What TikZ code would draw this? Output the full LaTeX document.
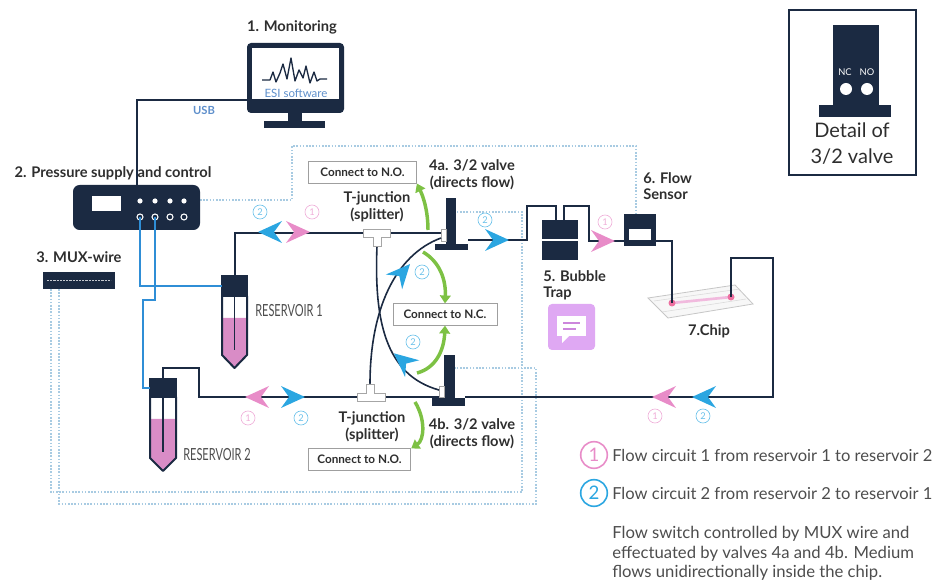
\documentclass[tikz,border=0pt]{standalone}
\usepackage{fontspec}
\setmainfont{Lato}
\newfontfamily\narrowfont[FakeStretch=0.66]{Lato}
\usetikzlibrary{arrows.meta}
\definecolor{navy}{HTML}{1B2A42}
\definecolor{ink}{HTML}{2E2E2E}
\definecolor{flowA}{HTML}{E88CC8}
\definecolor{flowB}{HTML}{2BA6E1}
\definecolor{liquid}{HTML}{D98CC6}
\definecolor{airline}{HTML}{2F8ED6}
\definecolor{ctrlline}{HTML}{A8CBE2}
\definecolor{leaf}{HTML}{7DC144}
\definecolor{lilac}{HTML}{DFA8F3}
\definecolor{usbtext}{HTML}{5E8FCB}
\begin{document}
\begin{tikzpicture}[x=0.75pt,y=-0.75pt,
  tube/.style={draw=navy,line width=1.5pt},
  airtube/.style={draw=airline,line width=1.5pt},
  ctrl/.style={draw=ctrlline,line width=0.9pt,dash pattern=on 1.2pt off 1.2pt},
  title/.style={font=\bfseries\fontsize{11}{12.5}\selectfont,text=ink,align=center,inner sep=0pt},
  notebox/.style={draw=gray!75,line width=0.6pt,fill=white,font=\bfseries\fontsize{8.8}{9}\selectfont,text=ink,minimum height=16pt,inner sep=0pt},
  numA/.style={circle,draw=flowA!70,text=flowA!70,line width=0.5pt,minimum size=10.5pt,inner sep=0pt,font=\fontsize{7}{7}\selectfont},
  numB/.style={circle,draw=flowB!70,text=flowB!70,line width=0.5pt,minimum size=10.5pt,inner sep=0pt,font=\fontsize{7}{7}\selectfont},
  keyA/.style={circle,draw=flowA,text=flowA,line width=1.2pt,minimum size=20pt,inner sep=0pt,font=\fontsize{14}{14}\selectfont},
  keyB/.style={circle,draw=flowB,text=flowB,line width=1.2pt,minimum size=20pt,inner sep=0pt,font=\fontsize{14}{14}\selectfont},
  keytext/.style={anchor=west,font=\fontsize{12.4}{14}\selectfont,text=ink!85,inner sep=0pt},
  switch/.style={draw=leaf,line width=2.6pt,-{Triangle[width=8pt,length=6pt]}},
  tjunction/.style={draw=gray!70,fill=white,line width=0.6pt},
  chev/.pic={\fill (12,0) -- (-12,-11) -- (-4,0) -- (-12,11) -- cycle;}
]
\useasboundingbox (0,0) rectangle (936,584);

% ---------- control lines (dotted) ----------
\coordinate (psOut) at (200,200);
\coordinate (fsTop) at (636,214);
\coordinate (muxA) at (51,289);
\coordinate (muxB) at (59,289);
\coordinate (v4aCtl) at (456,212);
\coordinate (v4bCtl) at (455,368);
\draw[ctrl] (psOut) -- (292,200) -- (292,146) -- (636,146) -- (fsTop);
\draw[ctrl] (muxA) -- (51,492) -- (522,492) -- (522,212) -- (v4aCtl);
\draw[ctrl] (muxB) -- (59,504) -- (536,504) -- (536,368) -- (v4bCtl);

% ---------- monitor ----------
\fill[navy,rounded corners=3pt] (247,43) rectangle (344,113);
\fill[white] (252,48) rectangle (339,99);
\fill[navy] (288,112) rectangle (302,122);
\fill[navy] (264,121) rectangle (325,128);
\draw[navy,line width=1pt,line join=round] (262,80) -- (270,80) -- (273,72) -- (276,82) -- (280,73) -- (283,64) -- (287,79) -- (291,58) -- (295,81) -- (299,70) -- (303,78) -- (306,66) -- (310,83) -- (314,72) -- (317,81) -- (320,79) -- (327,79);
\node[text=usbtext,font=\fontsize{8.6}{9}\selectfont,inner sep=0pt] (esi) at (296,93) {ESI software};
\node[title] (monlabel) at (292,27) {1. Monitoring};
\coordinate (monUsb) at (247,100);

% ---------- pressure supply ----------
\node[title,anchor=center] (pslabel) at (113,173) {2. Pressure supply and control};
\fill[navy,rounded corners=5pt] (73,185) rectangle (200,230);
\coordinate (psTop) at (137,185);
\fill[white] (92,196) rectangle (121,211);
\foreach \px in {140,155,170,184} {
  \fill[white] (\px,201) circle (2.6);
  \draw[white,line width=0.8pt] (\px,217) circle (3);
}
\coordinate (psP1) at (140,217);
\coordinate (psP2) at (155,217);
\draw[navy,line width=1.5pt] (monUsb) -- (137,100) -- (psTop);
\node[text=usbtext,font=\bfseries\fontsize{8.4}{9}\selectfont,inner sep=0pt] (usb) at (204,110) {USB};

% ---------- MUX wire ----------
\node[title] (muxlabel) at (79,257) {3. MUX-wire};
\fill[navy] (43,272) rectangle (115,289);
\draw[white!75!navy,line width=1.3pt,dash pattern=on 1.6pt off 0.8pt] (47,280.5) -- (111,280.5);

% ---------- reservoirs ----------
\coordinate (r1cap) at (222,286);
\coordinate (r2cap) at (150,388);
\coordinate (r1top) at (234.5,275);
\coordinate (r2top) at (163,378);
% reservoir 1
\fill[liquid] (222,318) -- (222,355) -- (234.5,368) -- (247,355) -- (247,318) -- cycle;
\draw[navy,line width=1.5pt,line join=round] (222,296) -- (222,355) -- (234.5,368) -- (247,355) -- (247,296);
\draw[navy,line width=1pt] (234.5,296) -- (234.5,350);
\fill[navy] (221.25,275) rectangle (247.75,297);
\node[font=\narrowfont\fontsize{12.5}{13}\selectfont,text=ink!85,anchor=west,inner sep=0pt] (r1label) at (255,311) {RESERVOIR 1};
% reservoir 2
\fill[liquid] (150,419) -- (150,458) -- (163,471) -- (176,458) -- (176,419) -- cycle;
\draw[navy,line width=1.5pt,line join=round] (150,397) -- (150,458) -- (163,471) -- (176,458) -- (176,397);
\draw[navy,line width=1pt] (163,397) -- (163,452);
\fill[navy] (149.25,378) rectangle (176.75,398);
\node[font=\narrowfont\fontsize{12.5}{13}\selectfont,text=ink!85,anchor=west,inner sep=0pt] (r2label) at (183,455) {RESERVOIR 2};

% pressure lines to reservoirs
\draw[airtube] (psP1) -- (140,286) -- (r1cap);
\draw[airtube] (psP2) -- (155,300) -- (143,300) -- (143,388) -- (r2cap);

% ---------- valves ----------
% 4a
\fill[navy] (446,198) rectangle (456,245);
\fill[navy] (435,244) rectangle (468,250);
\draw[gray!70,line width=0.6pt] (441,229) rectangle (446,241);
\coordinate (v4aIn) at (441,233);
\coordinate (v4aSide) at (441,238);
\coordinate (v4aOut) at (468,240);
% 4b
\fill[navy] (444,355) rectangle (455,400);
\fill[navy] (432,398) rectangle (465,406);
\draw[gray!70,line width=0.6pt] (439,386) rectangle (444,397);
\coordinate (v4bIn) at (439,397);
\coordinate (v4bSide) at (439,390);
\coordinate (v4bOut) at (465,397);

% ---------- T-junctions ----------
\coordinate (tAl) at (363,233);
\coordinate (tAr) at (390,233);
\coordinate (tAs) at (377,246);
\coordinate (tBl) at (357,397);
\coordinate (tBr) at (385,397);
\coordinate (tBs) at (370,384);

% top line: reservoir 1 -> T -> valve 4a
\draw[tube] (r1top) -- (234.5,233) -- (tAl);
\draw[tube] (tAr) -- (v4aIn);
% bottom line: reservoir 2 -> T -> valve 4b
\draw[tube] (r2top) -- (163,368) -- (199,368) -- (199,397) -- (tBl);
\draw[tube] (tBr) -- (v4bIn);
% crossing branches
\draw[navy,line width=1.2pt] (tAs) .. controls (374,320) and (385,375) .. (v4bSide);
\draw[navy,line width=1.2pt] (v4aSide) .. controls (395,255) and (370,310) .. (tBs);

\draw[tjunction] (363,229) -- (390,229) -- (390,237) -- (381,237) -- (381,246) -- (373,246) -- (373,237) -- (363,237) -- cycle;
\draw[tjunction] (357,401) -- (385,401) -- (385,393) -- (374,393) -- (374,384) -- (366,384) -- (366,393) -- (357,393) -- cycle;

% ---------- bubble trap, flow sensor, chip ----------
\fill[navy] (542,220) rectangle (578,260);
\draw[white,line width=1pt] (542,240) -- (578,240);
\coordinate (btIn) at (556,220);
\coordinate (btOut) at (564,220);
\fill[navy] (624,214) rectangle (656,246);
\fill[white] (629,229) rectangle (651,240);
\coordinate (fsIn) at (624,241);
\coordinate (fsOut) at (656,241);

% chip
\draw[gray!45,fill=gray!6,line width=0.6pt] (648,298) -- (735,285) -- (753,304) -- (668,318) -- cycle;
\draw[gray!30,line width=0.4pt] (654,301) -- (740,289);
\draw[gray!30,line width=0.4pt] (662,312) -- (746,299);
\draw[flowA!60,line width=2pt] (672,303) -- (731,297);
\coordinate (chipIn) at (672,303);
\coordinate (chipOut) at (731,297);
\fill[flowA!80!red] (chipIn) circle (3.5);
\fill[flowA!80!red] (chipOut) circle (3.5);
\node[title] (chiplabel) at (709,331) {7.Chip};

\draw[tube] (v4aOut) -- (527,240) -- (527,206) -- (556,206) -- (btIn);
\draw[tube] (btOut) -- (564,206) -- (589,206) -- (589,241) -- (fsIn);
\draw[tube] (fsOut) -- (672,241) -- (chipIn);
\draw[tube] (chipOut) -- (731,258) -- (773,258) -- (773,397) -- (v4bOut);

\node[title,align=left,anchor=north west] (btlabel) at (543,270) {5. Bubble\\Trap};
\node[title,align=left,anchor=north west] (fslabel) at (643,172) {6. Flow\\Sensor};

% comment icon
\fill[lilac,rounded corners=3pt] (548,304) rectangle (595,350);
\fill[white] (557,316) rectangle (586,336);
\fill[white] (562,335) -- (562,343) -- (570,335) -- cycle;
\draw[lilac!80!violet,line width=1pt] (563,323) -- (580,323);
\draw[lilac!80!violet,line width=1pt] (563,329) -- (576,329);

% ---------- labels around valves ----------
\node[title] (v4alabel) at (472,175) {4a. 3/2 valve\\(directs flow)};
\node[title] (tAlabel) at (377,207) {T-junction\\(splitter)};
\node[title] (tBlabel) at (372,427) {T-junction\\(splitter)};
\node[title] (v4blabel) at (472,434) {4b. 3/2 valve\\(directs flow)};

\node[notebox,minimum width=81pt] (noA) at (362.5,172.5) {Connect to N.O.};
\node[notebox,minimum width=78pt] (nc) at (445,314.5) {Connect to N.C.};
\node[notebox,minimum width=77pt] (noB) at (359.5,459.5) {Connect to N.O.};

% switching arrows
\draw[switch] (428,230) .. controls (428,205) and (420,190) .. (noA.south east);
\draw[switch] (423,252) .. controls (440,262) and (446,280) .. (nc.north);
\draw[switch] (417,373) .. controls (436,368) and (444,350) .. (nc.south);
\draw[switch] (415,402) .. controls (426,420) and (424,440) .. (noB.north east);

% ---------- flow direction marks ----------
\pic[color=flowB,rotate=180] at (270,232) {chev};
\pic[color=flowA] at (298,232) {chev};
\node[numB] at (260,212) {2};
\node[numA] at (312,212) {1};

\pic[color=flowB] at (497,240) {chev};
\node[numB] at (485,220) {2};
\pic[color=flowA] at (603,241) {chev};
\node[numA] at (605,222) {1};

\pic[color=flowA,rotate=180] at (257,397) {chev};
\pic[color=flowB] at (293,397) {chev};
\node[numA] at (248,418) {1};
\node[numB] at (301,418) {2};

\pic[color=flowA,rotate=180] at (664,397) {chev};
\pic[color=flowB,rotate=180] at (704,397) {chev};
\node[numA] at (655,416) {1};
\node[numB] at (703,416) {2};

\pic[color=flowB,rotate=48] at (402,273) {chev};
\node[numB] at (422,272) {2};
\pic[color=flowB,rotate=140] at (403,361) {chev};
\node[numB] at (413,342) {2};

% ---------- legend ----------
\node[keyA] (k1) at (594,455) {1};
\node[keytext] (k1t) at (612,455) {Flow circuit 1 from reservoir 1 to reservoir 2};
\node[keyB] (k2) at (594,493) {2};
\node[keytext] (k2t) at (612,493) {Flow circuit 2 from reservoir 2 to reservoir 1};
\node[anchor=north west,align=left,font=\fontsize{12.5}{14.6}\selectfont,text=ink!85,inner sep=0pt] (note) at (612,526) {Flow switch controlled by MUX wire and\\effectuated by valves 4a and 4b. Medium\\flows unidirectionally inside the chip.};

% ---------- valve detail ----------
\draw[navy,line width=2pt] (789,10) rectangle (916,175);
\fill[navy] (833,25) rectangle (879,106);
\fill[navy] (819,105) rectangle (891,117);
\node[text=white,font=\fontsize{7}{7}\selectfont,inner sep=0pt] (nclbl) at (845,72) {NC};
\node[text=white,font=\fontsize{7}{7}\selectfont,inner sep=0pt] (nolbl) at (867,72) {NO};
\fill[white] (846,89) circle (6);
\fill[white] (867,89) circle (6);
\node[font=\fontsize{15}{19.5}\selectfont,text=ink,align=center,inner sep=0pt] (detail) at (852,144) {Detail of\\3/2 valve};

\end{tikzpicture}
\end{document}
